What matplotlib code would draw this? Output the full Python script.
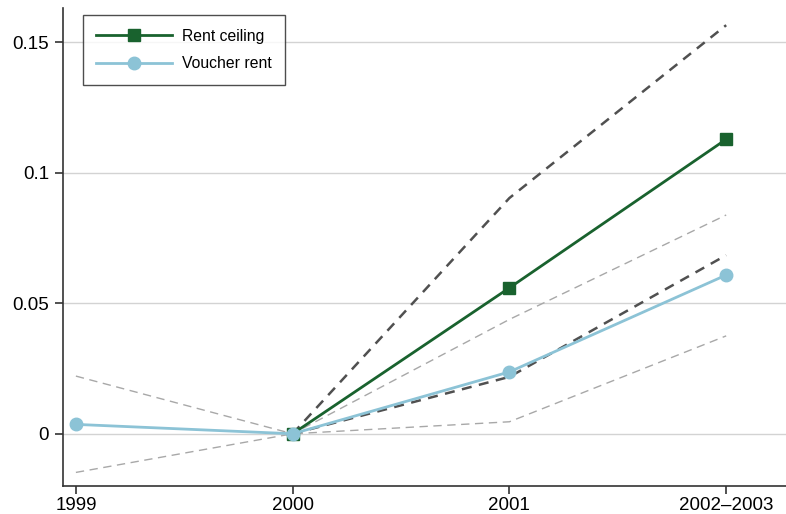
import numpy as np
import matplotlib
matplotlib.use("Agg")
import matplotlib.pyplot as plt

plt.rcParams['font.family'] = ['Liberation Sans', 'DejaVu Sans']

periods = ["1999", "2000", "2001", "2002\u20132003"]

# rent ceiling estimate and 95% band (no 1999 value)
ceiling = [np.nan, 0.0, 0.0559, 0.1128]
ceiling_hi = [np.nan, 0.0, 0.0903, 0.1565]
ceiling_lo = [np.nan, 0.0, 0.0218, 0.0684]

# voucher rent estimate and 95% band
voucher = [0.0036, 0.0, 0.0237, 0.0608]
voucher_hi = [0.0221, 0.0, 0.0438, 0.0838]
voucher_lo = [-0.0148, 0.0, 0.0046, 0.0375]

yticks = [0, 0.05, 0.1, 0.15]
ytick_labels = ["0", "0.05", "0.1", "0.15"]

fig = plt.figure(figsize=(7.86, 5.14), dpi=100)
ax = fig.add_axes([0.080, 0.055, 0.92, 0.929])

x = np.arange(len(periods))

ax.grid(axis='y', color='#d3d3d3', linewidth=1.0, zorder=0)
ax.set_axisbelow(True)

ax.plot(x, voucher_hi, color='#a8a8a8', linestyle=(0, (6, 4)), linewidth=1.0, zorder=2)
ax.plot(x, voucher_lo, color='#a8a8a8', linestyle=(0, (6, 4)), linewidth=1.0, zorder=2)
ax.plot(x, ceiling_hi, color='#505050', linestyle=(0, (4, 3)), linewidth=1.8, zorder=3)
ax.plot(x, ceiling_lo, color='#505050', linestyle=(0, (4, 3)), linewidth=1.8, zorder=3)

ax.plot(x, ceiling, color='#19622e', linewidth=2.0, marker='s', markersize=9,
        label='Rent ceiling', zorder=4)
ax.plot(x, voucher, color='#8cc3d6', linewidth=2.0, marker='o', markersize=9,
        label='Voucher rent', zorder=5)

ax.set_xlim(-0.06, 3.276)
ax.set_ylim(-0.0199, 0.163)
ax.set_xticks(x)
ax.set_xticklabels(periods, fontsize=13.5)
ax.set_yticks(yticks)
ax.set_yticklabels(ytick_labels, fontsize=13.5)
ax.tick_params(direction='out', length=6, width=1.2, color='#333333', pad=4)
ax.tick_params(axis='x', pad=2)

for s in ['top', 'right']:
    ax.spines[s].set_visible(False)
for s in ['left', 'bottom']:
    ax.spines[s].set_color('#333333')
    ax.spines[s].set_linewidth(1.2)

leg = ax.legend(loc='upper left', bbox_to_anchor=(0.0277, 0.985), borderaxespad=0,
                fontsize=11.3, frameon=True, fancybox=False, edgecolor='#222222',
                borderpad=0.85, handlelength=4.8, handletextpad=0.65,
                labelspacing=0.8)
leg.get_frame().set_linewidth(1.0)

fig.savefig("out.png", dpi=100)
